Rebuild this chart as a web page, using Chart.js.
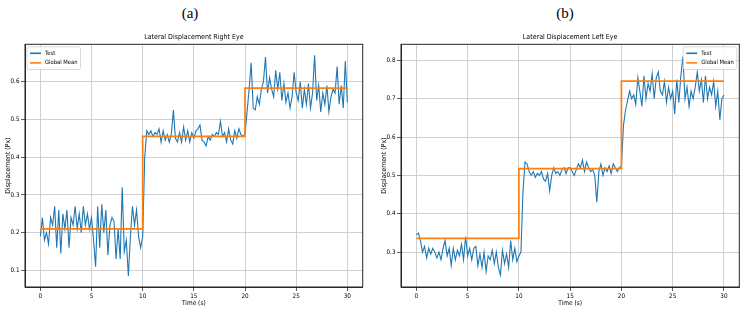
<!DOCTYPE html>
<html>
<head>
<meta charset="utf-8">
<script src="https://cdn.jsdelivr.net/npm/chart.js@4.4.1/dist/chart.umd.min.js"></script>
<style>
  body { margin: 0; background: #fff; width: 744px; height: 313px; position: relative; overflow: hidden; }
  canvas { position: absolute; top: 0; }
  .panel-label { position: absolute; top: 5px; font-family: "Liberation Serif", "DejaVu Serif", serif; font-size: 15px; color: #000; transform: translateX(-50%); }
</style>
</head>
<body>
<div class="panel-label" style="left:190px">(a)</div>
<div class="panel-label" style="left:565px">(b)</div>
<canvas id="chartA" width="372" height="313" style="left:0"></canvas>
<canvas id="chartB" width="372" height="313" style="left:372px"></canvas>
<script>
// Recording: one sample every 0.2 s, three 10 s blocks
const sampleStep = 0.2;
const segmentBounds = [0, 10, 20, 30];
const xTicks = [0, 5, 10, 15, 20, 25, 30];

// (a) Right eye
const rightTest = [
  0.19, 0.24, 0.18, 0.20, 0.17, 0.24, 0.22, 0.27, 0.16, 0.26,
  0.145, 0.25, 0.21, 0.26, 0.16, 0.24, 0.22, 0.27, 0.21, 0.25,
  0.20, 0.27, 0.22, 0.25, 0.21, 0.24, 0.18, 0.11, 0.27, 0.16,
  0.275, 0.20, 0.26, 0.14, 0.22, 0.24, 0.23, 0.13, 0.21, 0.13,
  0.32, 0.15, 0.18, 0.085, 0.19, 0.27, 0.22, 0.26, 0.19, 0.16,
  0.19, 0.40, 0.47, 0.46, 0.47, 0.455, 0.465, 0.46, 0.475, 0.44,
  0.47, 0.445, 0.46, 0.44, 0.46, 0.525, 0.45, 0.44, 0.465, 0.44,
  0.48, 0.445, 0.47, 0.44, 0.465, 0.45, 0.47, 0.475, 0.485, 0.445,
  0.44, 0.43, 0.455, 0.445, 0.46, 0.455, 0.465, 0.46, 0.495, 0.455,
  0.465, 0.44, 0.475, 0.445, 0.435, 0.47, 0.45, 0.475, 0.46, 0.455,
  0.46, 0.52, 0.58, 0.65, 0.53, 0.525, 0.56, 0.54, 0.58, 0.60,
  0.665, 0.57, 0.61, 0.58, 0.56, 0.63, 0.58, 0.625, 0.55, 0.595,
  0.545, 0.57, 0.53, 0.56, 0.625, 0.57, 0.55, 0.60, 0.53, 0.58,
  0.54, 0.595, 0.53, 0.57, 0.67, 0.55, 0.59, 0.52, 0.57, 0.54,
  0.59, 0.52, 0.56, 0.58, 0.57, 0.64, 0.54, 0.59, 0.53, 0.655,
  0.545
];
const rightMean = [0.21, 0.455, 0.583];
const rightYTicks = [0.1, 0.2, 0.3, 0.4, 0.5, 0.6];
const rightYRange = [0.056, 0.699];

// (b) Left eye
const leftTest = [
  0.345, 0.35, 0.33, 0.30, 0.315, 0.285, 0.31, 0.295, 0.31, 0.30,
  0.285, 0.30, 0.28, 0.31, 0.33, 0.29, 0.31, 0.265, 0.31, 0.28,
  0.305, 0.29, 0.32, 0.28, 0.34, 0.29, 0.31, 0.28, 0.31, 0.315,
  0.265, 0.295, 0.26, 0.30, 0.25, 0.29, 0.28, 0.305, 0.27, 0.30,
  0.26, 0.24, 0.305, 0.27, 0.295, 0.26, 0.33, 0.28, 0.31, 0.275,
  0.29, 0.30, 0.46, 0.535, 0.53, 0.51, 0.50, 0.51, 0.495, 0.505,
  0.50, 0.51, 0.49, 0.485, 0.505, 0.46, 0.50, 0.52, 0.505, 0.51,
  0.50, 0.515, 0.52, 0.505, 0.52, 0.52, 0.51, 0.50, 0.515, 0.53,
  0.52, 0.54, 0.51, 0.535, 0.52, 0.51, 0.515, 0.50, 0.43, 0.51,
  0.53, 0.50, 0.52, 0.51, 0.525, 0.505, 0.53, 0.52, 0.51, 0.52,
  0.525, 0.63, 0.67, 0.695, 0.72, 0.70, 0.71, 0.685, 0.755, 0.72,
  0.68, 0.76, 0.70, 0.74, 0.72, 0.765, 0.70, 0.755, 0.77, 0.72,
  0.71, 0.745, 0.69, 0.73, 0.70, 0.72, 0.66, 0.75, 0.69, 0.76,
  0.81, 0.70, 0.73, 0.68, 0.72, 0.70, 0.73, 0.77, 0.72, 0.75,
  0.69, 0.76, 0.70, 0.73, 0.71, 0.745, 0.68, 0.72, 0.645, 0.70,
  0.71
];
const leftMean = [0.336, 0.518, 0.746];
const leftYTicks = [0.3, 0.4, 0.5, 0.6, 0.7, 0.8];
const leftYRange = [0.209, 0.842];

const FONT = '"DejaVu Sans Condensed", "Liberation Sans Narrow", "DejaVu Sans", sans-serif';

function toPoints(values) {
  return values.map((v, i) => ({ x: i * sampleStep, y: v }));
}

function meanSteps(levels) {
  const pts = [];
  levels.forEach((m, k) => {
    pts.push({ x: segmentBounds[k], y: m });
    pts.push({ x: segmentBounds[k + 1], y: m });
  });
  return pts;
}

// box around the plot + matplotlib style legend inside it
const frameLegend = {
  id: 'frameLegend',
  afterDatasetsDraw(chart, args, opts) {
    const { ctx, chartArea: a } = chart;
    ctx.save();
    ctx.strokeStyle = '#262626';
    ctx.lineWidth = 1;
    ctx.strokeRect(a.left, a.top, a.width, a.height);

    ctx.font = '5.8px ' + FONT;
    const items = chart.data.datasets;
    const textW = Math.max(...items.map(d => ctx.measureText(d.label).width));
    const w = 3 + 11 + 4 + textW + 3;
    const h = items.length * 9.6 + 3.5;
    const x = opts.side === 'right' ? a.right - 2.5 - w : a.left + 2;
    const y = a.top + 2.5;
    ctx.beginPath();
    ctx.roundRect(x, y, w, h, 2);
    ctx.fillStyle = 'rgba(255,255,255,0.85)';
    ctx.fill();
    ctx.strokeStyle = '#d0d0d0';
    ctx.lineWidth = 0.8;
    ctx.stroke();

    ctx.textBaseline = 'middle';
    items.forEach((d, i) => {
      const yy = y + 6.5 + i * 9.6;
      ctx.strokeStyle = d.borderColor;
      ctx.lineWidth = 1.6;
      ctx.beginPath();
      ctx.moveTo(x + 3, yy);
      ctx.lineTo(x + 14, yy);
      ctx.stroke();
      ctx.fillStyle = '#000';
      ctx.fillText(d.label, x + 18, yy);
    });
    ctx.restore();
  }
};

function makeChart(id, title, test, mean, yTicks, yRange, side, padLeft, padRight) {
  return new Chart(document.getElementById(id), {
    type: 'line',
    data: {
      datasets: [
        {
          label: 'Test',
          data: toPoints(test),
          borderColor: '#1f77b4',
          borderWidth: 1.1,
          pointRadius: 0,
          order: 2,
        },
        {
          label: 'Global Mean',
          data: meanSteps(mean),
          borderColor: '#ff7f0e',
          borderWidth: 1.7,
          pointRadius: 0,
          order: 1,
        },
      ],
    },
    options: {
      responsive: false,
      animation: false,
      layout: { padding: { left: padLeft, right: padRight, top: 0, bottom: 0 } },
      plugins: {
        legend: { display: false },
        tooltip: { enabled: false },
        title: {
          display: true,
          text: title,
          fullSize: false,
          color: '#000',
          font: { family: FONT, size: 7, weight: 'normal' },
          padding: { top: 33, bottom: 2.9 },
        },
        frameLegend: { side: side },
      },
      scales: {
        x: {
          type: 'linear',
          min: -1.5,
          max: 31.5,
          afterBuildTicks: s => { s.ticks = xTicks.map(v => ({ value: v })); },
          afterFit: s => { s.height = 26; },
          grid: { color: '#c4c4c4', lineWidth: 0.8, tickColor: '#333', tickLength: 4 },
          border: { color: '#262626', width: 1 },
          ticks: { color: '#000', padding: 1.5, font: { family: FONT, size: 6.3 }, maxRotation: 0 },
          title: { display: true, text: 'Time (s)', color: '#000', font: { family: FONT, size: 6.5 }, padding: { top: 0, bottom: 6 } },
        },
        y: {
          min: yRange[0],
          max: yRange[1],
          afterBuildTicks: s => { s.ticks = yTicks.map(v => ({ value: v })); },
          afterFit: s => { s.width = 25; },
          grid: { color: '#c4c4c4', lineWidth: 0.8, tickColor: '#333', tickLength: 4 },
          border: { color: '#262626', width: 1 },
          ticks: { color: '#000', padding: 1.5, font: { family: FONT, size: 6.3 }, callback: v => v.toFixed(1) },
          title: { display: true, text: 'Displacement (Px)', color: '#000', font: { family: FONT, size: 6.8 }, padding: { top: 4, bottom: 0 } },
        },
      },
    },
    plugins: [frameLegend],
  });
}

makeChart('chartA', 'Lateral Displacement Right Eye', rightTest, rightMean, rightYTicks, rightYRange, 'left', 0, 9.3);
makeChart('chartB', 'Lateral Displacement Left Eye', leftTest, leftMean, leftYTicks, leftYRange, 'right', 4, 4.7);
</script>
</body>
</html>
